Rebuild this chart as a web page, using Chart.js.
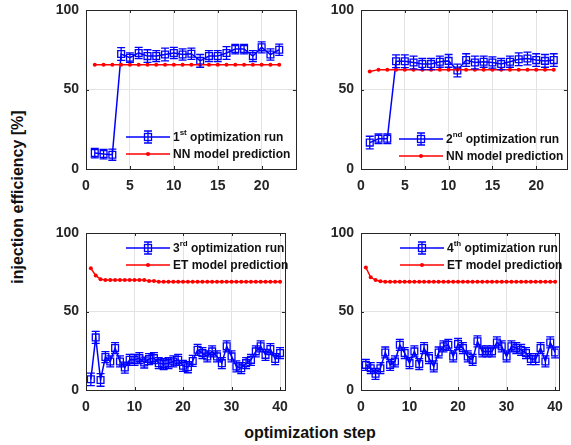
<!DOCTYPE html>
<html>
<head>
<meta charset="utf-8">
<script src="https://cdn.jsdelivr.net/npm/chart.js@4"></script>
<style>
  body { margin:0; width:571px; height:445px; background:#fff; position:relative; overflow:hidden;
         font-family:"Liberation Sans", Arial, sans-serif; }
  canvas { position:absolute; }
  .ylab { position:absolute; left:18px; top:197px; transform:translate(-50%,-50%) rotate(-90deg);
          font-weight:bold; font-size:16px; color:#111; white-space:nowrap; }
  .xlab { position:absolute; left:310px; top:433px; transform:translate(-50%,-50%);
          font-weight:bold; font-size:16px; color:#111; white-space:nowrap; }
</style>
</head>
<body>
<canvas id="c1"></canvas>
<canvas id="c2"></canvas>
<canvas id="c3"></canvas>
<canvas id="c4"></canvas>
<div class="ylab">injection efficiency [%]</div>
<div class="xlab">optimization step</div>
<script>
// optimization steps
const stepsShort = [1,2,3,4,5,6,7,8,9,10,11,12,13,14,15,16,17,18,19,20,21,22];
const stepsLong = [1,2,3,4,5,6,7,8,9,10,11,12,13,14,15,16,17,18,19,20,
                   21,22,23,24,25,26,27,28,29,30,31,32,33,34,35,36,37,38,39,40];

// 1st run + NN prediction
const run1 = [10, 9.4, 9, 72.3, 70, 73, 71, 71, 72, 73, 72, 72.5, 68, 71, 71, 73, 75.4, 75.4, 71, 76.5, 72, 75];
const err1 = [3, 3, 3.5, 4, 3, 3.5, 4, 3.5, 4, 3.5, 3.5, 3.5, 4, 3.5, 3.5, 4, 3, 3, 3.5, 3.5, 3.5, 3.5];
const nn1 = [65.5, 65.5, 65.5, 65.5, 65.5, 65.5, 65.5, 65.5, 65.5, 65.5, 65.5,
             65.5, 65.5, 65.5, 65.5, 65.5, 65.5, 65.5, 65.5, 65.5, 65.5, 65.5];

// 2nd run + NN prediction
const run2 = [16.6, 19, 19, 67.8, 67.8, 67, 66, 66, 67.5, 68, 62, 68.5, 67, 67.5, 67, 66, 67.5, 69, 69.5, 68.5, 68, 68.5];
const err2 = [4, 3, 3, 4, 4, 4, 3.5, 3.5, 3.5, 4, 4, 4, 4, 3.5, 3.5, 3.5, 3.5, 4, 4, 4, 4, 4];
const nn2 = [61.3, 62.5, 62.5, 62.5, 62.5, 62.5, 62.5, 62.5, 62.5, 62.5, 62.5,
             62.5, 62.5, 62.5, 62.5, 62.5, 62.5, 62.5, 62.5, 62.5, 62.5, 62.5];

// 3rd run + ET prediction
const run3 = [6.8, 33.5, 6.4, 21, 18.2, 26.7, 18.2, 14.3, 19.2, 19.2,
              20.3, 17.5, 19.7, 20.3, 17.1, 16.5, 17.1, 18.2, 19.2, 15.4,
              14.5, 18.5, 25.6, 23.5, 21.4, 24.6, 21.4, 17.1, 27.8, 21.4,
              15, 13.9, 17.1, 19.2, 24.6, 27.8, 22.4, 26.1, 19.7, 23.5];
const err3 = [4, 3.8, 4, 3.5, 3.5, 3.5, 3.5, 3.5, 3.5, 3.5,
              3.5, 3.5, 3.5, 3.5, 3.5, 3.5, 3.5, 3.5, 3.5, 3.5,
              3.5, 3.5, 3.5, 3.5, 3.5, 3.5, 3.5, 3.5, 3.5, 3.5,
              3.5, 3.5, 3.5, 3.5, 3.5, 3.5, 3.5, 3.5, 3.5, 3.5];
const et3 = [77.5, 73, 70.5, 70, 70, 70, 70, 70, 70, 70,
             70, 70, 69.5, 69.5, 69, 69, 69, 69, 69, 69,
             69, 69, 69, 69, 69, 69, 69, 69, 69, 69,
             69, 69, 69, 69, 69, 69, 69, 69, 69, 69];

// 4th run + ET prediction
const run4 = [16, 13.9, 10.3, 13.9, 23.9, 16, 18.2, 28.8, 23.5, 17.1,
              24.6, 16.5, 26.7, 20.3, 15, 23.9, 27.8, 28.8, 21.4, 29.3,
              26.7, 21.4, 19.2, 31, 24.6, 24.6, 24.6, 30.3, 27.8, 21.4,
              27.8, 26.7, 25.6, 23.5, 19.7, 19.7, 26.7, 18.2, 30.3, 23.9];
const err4 = [3.5, 3.5, 3.5, 3.5, 3.5, 3.5, 3.5, 3.5, 3.5, 3.5,
              3.5, 3.5, 3.5, 3.5, 3.5, 3.5, 3.5, 3.5, 3.5, 3.5,
              3.5, 3.5, 3.5, 3.5, 3.5, 3.5, 3.5, 3.5, 3.5, 3.5,
              3.5, 3.5, 3.5, 3.5, 3.5, 3.5, 3.5, 3.5, 3.5, 3.5];
const et4 = [78, 71.8, 70, 69.3, 69, 69, 69, 69, 69, 69,
             69, 69, 69, 69, 69, 69, 69, 69, 69, 69,
             69, 69, 69, 69, 69, 69, 69, 69, 69, 69,
             69, 69, 69, 69, 69, 69, 69, 69, 69, 69];

const yTicks = [0, 50, 100];
const xTicksShort = [0, 5, 10, 15, 20];
const xTicksLong = [0, 10, 20, 30, 40];

const BLUE = '#0000ff', RED = '#ff0000', FRAME = '#262626', GRID = '#e3e3e3';
const FONT = '"Liberation Sans", Arial, sans-serif';

// plot box in page pixels, legend placement relative to the plot box
const panels = [
  { id:'c1', box:[86, 10, 298, 169], xmax:23.9, xt:xTicksShort, run:run1, err:err1, pred:nn1, xs:stepsShort,
    ord:'st', num:'1', model:'NN', leg:{x:40, y:127} },
  { id:'c2', box:[361, 10, 569, 169], xmax:23.5, xt:xTicksShort, run:run2, err:err2, pred:nn2, xs:stepsShort,
    ord:'nd', num:'2', model:'NN', leg:{x:38, y:129} },
  { id:'c3', box:[86, 233, 293, 390], xmax:41, xt:xTicksLong, run:run3, err:err3, pred:et3, xs:stepsLong,
    ord:'rd', num:'3', model:'ET', leg:{x:40, y:15} },
  { id:'c4', box:[361, 233, 568, 390], xmax:40.7, xt:xTicksLong, run:run4, err:err4, pred:et4, xs:stepsLong,
    ord:'th', num:'4', model:'ET', leg:{x:39, y:15} }
];

const PADL = 42, PADT = 10, PADB = 28;

const errorBars = {
  id:'errorBars',
  afterDatasetsDraw(chart){
    const ctx = chart.ctx, ys = chart.scales.y;
    chart.data.datasets.forEach((ds, i) => {
      if (!ds.errors) return;
      const meta = chart.getDatasetMeta(i);
      ctx.save();
      ctx.strokeStyle = ds.borderColor;
      ctx.lineWidth = 1.3;
      meta.data.forEach((pt, j) => {
        const v = ds.data[j].y, e = ds.errors[j];
        const y1 = ys.getPixelForValue(v - e), y2 = ys.getPixelForValue(v + e);
        ctx.beginPath();
        ctx.moveTo(pt.x, y1); ctx.lineTo(pt.x, y2);
        ctx.moveTo(pt.x - 4, y1); ctx.lineTo(pt.x + 4, y1);
        ctx.moveTo(pt.x - 4, y2); ctx.lineTo(pt.x + 4, y2);
        ctx.stroke();
      });
      ctx.restore();
    });
  }
};

const frameLegend = {
  id:'frameLegend',
  afterDraw(chart, args, opts){
    const ctx = chart.ctx, a = chart.chartArea;
    const xs = chart.scales.x, ys = chart.scales.y;
    ctx.save();
    ctx.strokeStyle = FRAME;
    ctx.lineWidth = 1;
    ctx.strokeRect(Math.round(a.left) + 0.5, Math.round(a.top) + 0.5,
                   Math.round(a.right - a.left), Math.round(a.bottom - a.top));
    // small inward tick marks on all four sides
    ctx.beginPath();
    xs.ticks.forEach(t => {
      const px = Math.round(xs.getPixelForValue(t.value)) + 0.5;
      ctx.moveTo(px, a.bottom); ctx.lineTo(px, a.bottom - 3);
      ctx.moveTo(px, a.top); ctx.lineTo(px, a.top + 3);
    });
    ys.ticks.forEach(t => {
      const py = Math.round(ys.getPixelForValue(t.value)) + 0.5;
      ctx.moveTo(a.left, py); ctx.lineTo(a.left + 3, py);
      ctx.moveTo(a.right, py); ctx.lineTo(a.right - 3, py);
    });
    ctx.stroke();
    // legend
    const p = opts.panel;
    const x0 = a.left + p.leg.x, x1 = x0 + 44, xm = (x0 + x1) / 2;
    const r1 = a.top + p.leg.y, r2 = r1 + 17;
    ctx.lineWidth = 1.5;
    ctx.strokeStyle = BLUE;
    ctx.beginPath(); ctx.moveTo(x0, r1); ctx.lineTo(x1, r1); ctx.stroke();
    ctx.lineWidth = 1.3;
    ctx.strokeRect(xm - 3.5, r1 - 3.5, 7, 7);
    ctx.beginPath();
    ctx.moveTo(xm, r1 - 6); ctx.lineTo(xm, r1 + 6);
    ctx.moveTo(xm - 4, r1 - 6); ctx.lineTo(xm + 4, r1 - 6);
    ctx.moveTo(xm - 4, r1 + 6); ctx.lineTo(xm + 4, r1 + 6);
    ctx.stroke();
    ctx.strokeStyle = RED;
    ctx.lineWidth = 1.5;
    ctx.beginPath(); ctx.moveTo(x0, r2); ctx.lineTo(x1, r2); ctx.stroke();
    ctx.fillStyle = RED;
    ctx.beginPath(); ctx.arc(xm, r2, 2, 0, Math.PI * 2); ctx.fill();

    ctx.fillStyle = '#111';
    ctx.textBaseline = 'middle';
    let tx = x1 + 3;
    ctx.font = 'bold 12px ' + FONT;
    ctx.fillText(p.num, tx, r1 + 1);
    tx += ctx.measureText(p.num).width;
    ctx.font = 'bold 8px ' + FONT;
    ctx.fillText(p.ord, tx, r1 - 4);
    tx += ctx.measureText(p.ord).width;
    ctx.font = 'bold 12px ' + FONT;
    ctx.fillText(' optimization run', tx, r1 + 1);
    ctx.fillText(p.model + ' model prediction', x1 + 3, r2 + 1);
    ctx.restore();
  }
};

panels.forEach(p => {
  const [L, T, R, B] = p.box;
  const cv = document.getElementById(p.id);
  const padR = 4;
  cv.width = (R - L) + PADL + padR;
  cv.height = (B - T) + PADT + PADB;
  cv.style.left = (L - PADL) + 'px';
  cv.style.top = (T - PADT) + 'px';

  new Chart(cv, {
    type:'line',
    data:{
      datasets:[
        { data:p.xs.map((x, i) => ({x, y:p.pred[i]})), borderColor:RED, backgroundColor:RED,
          borderWidth:1.5, pointStyle:'circle', pointRadius:2, pointBorderWidth:0 },
        { data:p.xs.map((x, i) => ({x, y:p.run[i]})), errors:p.err, borderColor:BLUE,
          backgroundColor:'rgba(0,0,0,0)', borderWidth:1.5, pointStyle:'rect', pointRadius:4.8,
          pointBorderWidth:1.3 }
      ]
    },
    options:{
      responsive:false,
      animation:false,
      layout:{ padding:{ top:PADT, right:padR, left:0, bottom:0 } },
      plugins:{ legend:{ display:false }, tooltip:{ enabled:false }, frameLegend:{ panel:p } },
      scales:{
        x:{
          type:'linear', min:0, max:p.xmax,
          afterBuildTicks: s => { s.ticks = p.xt.map(v => ({value:v})); },
          afterFit: s => { s.height = PADB; },
          grid:{ color:GRID, drawTicks:false },
          border:{ display:false },
          ticks:{ padding:9, color:FRAME, maxRotation:0, font:{ family:FONT, size:14, weight:'bold' } }
        },
        y:{
          min:0, max:100,
          afterBuildTicks: s => { s.ticks = yTicks.map(v => ({value:v})); },
          afterFit: s => { s.width = PADL; s.paddingTop = 0; s.paddingBottom = 0; },
          grid:{ color:GRID, drawTicks:false },
          border:{ display:false },
          ticks:{ padding:7, color:FRAME, font:{ family:FONT, size:14, weight:'bold' } }
        }
      }
    },
    plugins:[errorBars, frameLegend]
  });
});
</script>
</body>
</html>
